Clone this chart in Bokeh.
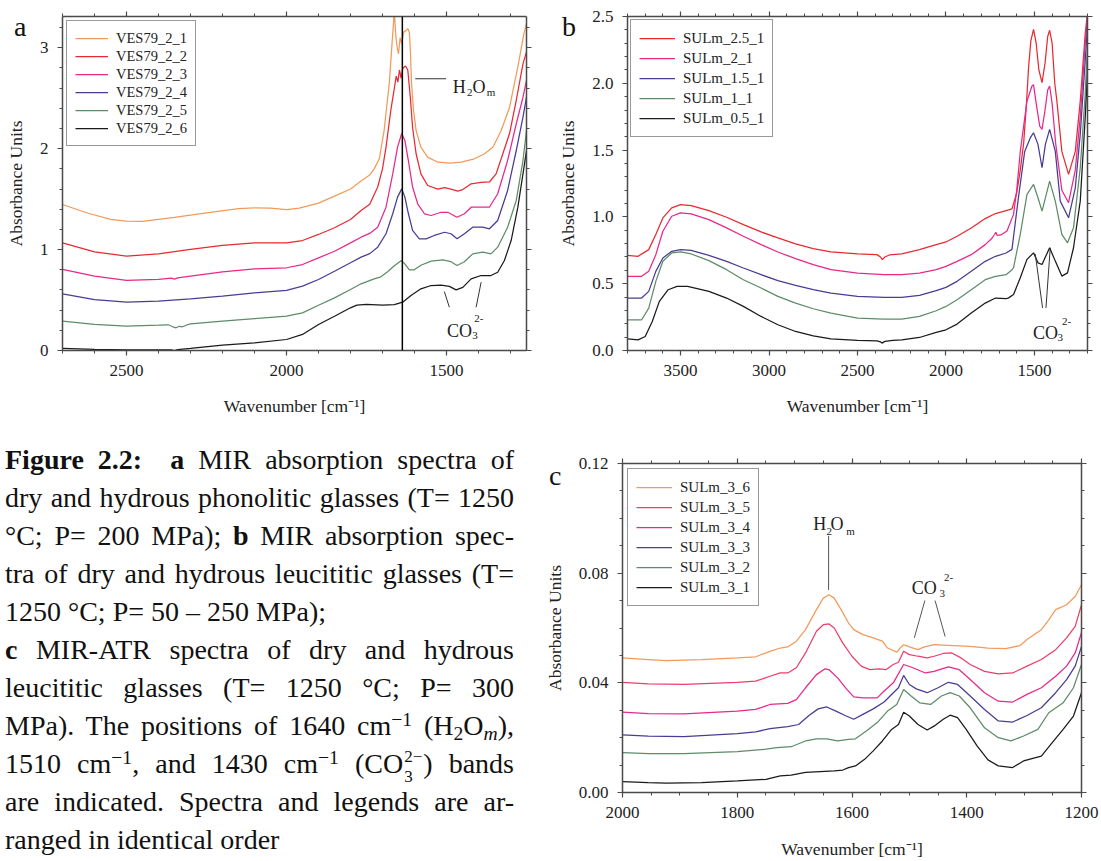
from bokeh.plotting import figure
from bokeh.models import (Range1d, LinearAxis, FixedTicker, PrintfTickFormatter, Span, Label, Div,
                          CustomLabelingPolicy)
from bokeh.layouts import column, row
from bokeh.embed import file_html
from bokeh.resources import INLINE

SERIF = "Liberation Serif"
FRAME = "#4a4a4a"
TXT = "#222222"

# ---------------- Panel a : phonolitic glasses (wavenumber, absorbance) ----------------
a_names = ["VES79_2_1", "VES79_2_2", "VES79_2_3", "VES79_2_4", "VES79_2_5", "VES79_2_6"]
a_colors = ["#F39A5A", "#E82A30", "#E8288A", "#483C94", "#5E8C69", "#1A1A1A"]
a_1 = [(2700, 1.447), (2620, 1.36), (2550, 1.30), (2500, 1.282), (2450, 1.28), (2400, 1.30), (2350, 1.32),
       (2250, 1.364), (2150, 1.405), (2100, 1.414), (2050, 1.41), (2000, 1.397), (1960, 1.41), (1900, 1.46),
       (1850, 1.53), (1800, 1.60), (1767, 1.68), (1740, 1.74), (1726, 1.80), (1710, 1.90), (1695, 2.18),
       (1679, 2.64), (1668, 3.14), (1663, 3.36), (1658, 3.10), (1654, 3.00), (1650, 2.94), (1645, 3.10),
       (1640, 3.04), (1634, 3.155), (1627, 3.17), (1621, 3.19), (1616, 3.155), (1613, 2.97), (1609, 2.64),
       (1603, 2.38), (1595, 2.18), (1580, 2.015), (1559, 1.916), (1527, 1.866), (1486, 1.856), (1454, 1.866),
       (1413, 1.90), (1381, 1.95), (1355, 2.015), (1329, 2.18), (1303, 2.41), (1277, 2.81), (1258, 3.14), (1250, 3.24)]
a_2 = [(2700, 1.067), (2600, 0.978), (2500, 0.935), (2400, 0.958), (2300, 1.001), (2200, 1.041), (2100, 1.067),
       (2000, 1.067), (1950, 1.09), (1900, 1.15), (1850, 1.216), (1800, 1.298), (1767, 1.388), (1740, 1.45),
       (1715, 1.62), (1700, 1.80), (1689, 2.015), (1674, 2.38), (1663, 2.60), (1657, 2.72), (1652, 2.66),
       (1647, 2.78), (1642, 2.70), (1636, 2.80), (1628, 2.82), (1621, 2.78), (1613, 2.51), (1606, 2.21),
       (1595, 1.95), (1580, 1.75), (1559, 1.635), (1527, 1.60), (1506, 1.615), (1486, 1.60), (1465, 1.58),
       (1449, 1.595), (1423, 1.652), (1392, 1.665), (1366, 1.67), (1345, 1.75), (1324, 1.95), (1303, 2.15),
       (1282, 2.48), (1261, 2.84), (1250, 2.96)]
a_3 = [(2700, 0.803), (2600, 0.737), (2500, 0.694), (2400, 0.704), (2360, 0.718), (2350, 0.708), (2340, 0.72),
       (2300, 0.737), (2200, 0.78), (2100, 0.81), (2000, 0.82), (1950, 0.852), (1900, 0.918), (1850, 0.984),
       (1800, 1.067), (1767, 1.123), (1740, 1.16), (1715, 1.222), (1689, 1.42), (1668, 1.75), (1653, 2.015),
       (1640, 2.15), (1630, 2.08), (1619, 1.88), (1606, 1.62), (1590, 1.454), (1569, 1.355), (1548, 1.338),
       (1517, 1.37), (1496, 1.37), (1467, 1.321), (1444, 1.355), (1423, 1.42), (1392, 1.42), (1366, 1.42),
       (1340, 1.553), (1309, 1.883), (1282, 2.247), (1261, 2.51), (1250, 2.676)]
a_4 = [(2700, 0.562), (2600, 0.505), (2500, 0.479), (2400, 0.489), (2300, 0.512), (2200, 0.538), (2100, 0.572),
       (2000, 0.595), (1950, 0.638), (1900, 0.704), (1850, 0.786), (1800, 0.869), (1767, 0.925), (1740, 0.96),
       (1715, 1.024), (1689, 1.157), (1668, 1.355), (1653, 1.52), (1640, 1.602), (1630, 1.52), (1619, 1.355),
       (1606, 1.19), (1585, 1.107), (1564, 1.107), (1538, 1.14), (1506, 1.172), (1486, 1.157), (1467, 1.107),
       (1444, 1.157), (1418, 1.222), (1387, 1.222), (1366, 1.206), (1340, 1.288), (1309, 1.586), (1282, 1.982),
       (1261, 2.312), (1250, 2.51)]
a_5 = [(2700, 0.291), (2600, 0.258), (2500, 0.241), (2400, 0.251), (2370, 0.255), (2355, 0.235), (2345, 0.225),
       (2335, 0.24), (2325, 0.235), (2310, 0.255), (2300, 0.264), (2200, 0.291), (2100, 0.317), (2000, 0.340),
       (1950, 0.373), (1900, 0.449), (1850, 0.522), (1800, 0.605), (1767, 0.661), (1726, 0.71), (1705, 0.73),
       (1684, 0.78), (1663, 0.84), (1642, 0.89), (1632, 0.865), (1616, 0.80), (1601, 0.80), (1580, 0.845),
       (1548, 0.885), (1511, 0.899), (1486, 0.88), (1467, 0.842), (1444, 0.88), (1418, 0.958), (1387, 0.974),
       (1361, 0.958), (1340, 1.024), (1309, 1.222), (1282, 1.487), (1261, 1.883), (1250, 2.18)]
a_6 = [(2700, 0.02), (2600, 0.01), (2500, 0.006), (2400, 0.005), (2360, 0.006), (2350, 0.0), (2340, 0.008),
       (2300, 0.02), (2200, 0.053), (2100, 0.076), (2000, 0.109), (1950, 0.159), (1900, 0.258), (1850, 0.34),
       (1800, 0.423), (1780, 0.449), (1750, 0.456), (1700, 0.449), (1663, 0.455), (1637, 0.479), (1611, 0.545),
       (1580, 0.611), (1548, 0.644), (1517, 0.648), (1491, 0.635), (1470, 0.601), (1449, 0.625), (1423, 0.71),
       (1392, 0.743), (1361, 0.743), (1340, 0.776), (1319, 0.892), (1298, 1.09), (1277, 1.42), (1261, 1.75),
       (1250, 1.98)]
a_series = [a_1, a_2, a_3, a_4, a_5, a_6]
a_x_major = [2500, 2000, 1500]
a_y_major = [0, 1, 2, 3]
a_h2o_band = 1638

# ---------------- Panel b : leucititic glasses ----------------
b_names = ["SULm_2.5_1", "SULm_2_1", "SULm_1.5_1", "SULm_1_1", "SULm_0.5_1"]
b_colors = ["#E82A30", "#E8288A", "#483C94", "#5E8C69", "#1A1A1A"]
b_1 = [(3800, 0.7125), (3740, 0.705), (3680, 0.755), (3640, 0.8675), (3600, 0.9925), (3550, 1.0675),
       (3500, 1.0925), (3440, 1.085), (3340, 1.0475), (3240, 0.9975), (3145, 0.9425), (3045, 0.8875),
       (2950, 0.8425), (2850, 0.7975), (2750, 0.7625), (2650, 0.7375), (2500, 0.7225), (2390, 0.7175),
       (2370, 0.70), (2360, 0.68), (2345, 0.70), (2320, 0.715), (2250, 0.7225), (2150, 0.755), (2055, 0.7925),
       (2000, 0.8125), (1937, 0.855), (1857, 0.9175), (1778, 0.9875), (1720, 1.025), (1660, 1.0475),
       (1627, 1.06), (1600, 1.18), (1580, 1.35), (1561, 1.55), (1545, 1.85), (1533, 2.12), (1520, 2.32),
       (1505, 2.404), (1490, 2.30), (1475, 2.10), (1457, 2.005), (1440, 2.15), (1425, 2.35), (1414, 2.397),
       (1400, 2.30), (1385, 2.00), (1373, 1.867), (1345, 1.49), (1307, 1.318), (1269, 1.49), (1241, 1.867),
       (1213, 2.37), (1194, 2.60)]
b_2 = [(3800, 0.555), (3720, 0.555), (3680, 0.5925), (3640, 0.7175), (3600, 0.8925), (3550, 1.005),
       (3500, 1.03), (3440, 1.0225), (3340, 0.98), (3240, 0.9175), (3145, 0.855), (3045, 0.7925),
       (2950, 0.7375), (2850, 0.6875), (2750, 0.6425), (2650, 0.605), (2500, 0.58), (2350, 0.5675),
       (2250, 0.5675), (2150, 0.58), (2055, 0.605), (2000, 0.63), (1937, 0.6675), (1857, 0.7175),
       (1778, 0.7925), (1740, 0.84), (1725, 0.87), (1718, 0.885), (1711, 0.862), (1690, 0.865), (1655, 0.894),
       (1618, 1.019), (1600, 1.20), (1580, 1.49), (1542, 1.867), (1514, 1.98), (1505, 1.99), (1490, 1.85),
       (1470, 1.68), (1457, 1.655), (1440, 1.80), (1425, 1.95), (1414, 1.98), (1400, 1.85), (1380, 1.55),
       (1345, 1.20), (1307, 1.106), (1269, 1.35), (1241, 1.75), (1213, 2.30), (1194, 2.60)]
b_3 = [(3800, 0.3925), (3720, 0.3925), (3680, 0.4425), (3640, 0.5925), (3600, 0.6925), (3550, 0.7425),
       (3500, 0.755), (3440, 0.75), (3340, 0.7125), (3240, 0.6675), (3145, 0.6175), (3045, 0.5675),
       (2950, 0.5225), (2850, 0.4875), (2750, 0.455), (2650, 0.43), (2500, 0.405), (2350, 0.3975),
       (2250, 0.3975), (2150, 0.4125), (2055, 0.4475), (2000, 0.4725), (1937, 0.5175), (1857, 0.5925),
       (1778, 0.6675), (1720, 0.705), (1660, 0.73), (1627, 0.757), (1593, 1.118), (1555, 1.49), (1523, 1.593),
       (1505, 1.63), (1480, 1.543), (1457, 1.368), (1438, 1.543), (1414, 1.655), (1382, 1.49), (1354, 1.118),
       (1307, 0.993), (1269, 1.218), (1241, 1.618), (1213, 2.167), (1194, 2.55)]
b_4 = [(3800, 0.23), (3720, 0.23), (3680, 0.3175), (3640, 0.5175), (3600, 0.6675), (3550, 0.73),
       (3500, 0.7375), (3440, 0.7225), (3340, 0.6725), (3240, 0.605), (3145, 0.53), (3045, 0.4675),
       (2950, 0.405), (2850, 0.355), (2750, 0.3125), (2650, 0.28), (2500, 0.2425), (2350, 0.235),
       (2250, 0.235), (2150, 0.255), (2055, 0.2975), (2000, 0.33), (1937, 0.38), (1857, 0.455), (1778, 0.53),
       (1720, 0.555), (1660, 0.5675), (1630, 0.6), (1618, 0.62), (1580, 0.869), (1542, 1.169), (1505, 1.243),
       (1480, 1.143), (1457, 1.043), (1438, 1.143), (1414, 1.268), (1382, 1.118), (1345, 0.869), (1313, 0.806),
       (1279, 0.918), (1241, 1.368), (1213, 1.918), (1194, 2.47)]
b_5 = [(3800, 0.0875), (3740, 0.08), (3700, 0.105), (3660, 0.2175), (3620, 0.3675), (3570, 0.455),
       (3520, 0.48), (3460, 0.48), (3340, 0.4425), (3240, 0.3925), (3145, 0.33), (3045, 0.255), (2950, 0.1925),
       (2850, 0.1425), (2750, 0.11), (2650, 0.0875), (2500, 0.075), (2390, 0.072), (2370, 0.065), (2362, 0.055),
       (2345, 0.068), (2300, 0.075), (2250, 0.08), (2150, 0.0975), (2055, 0.135), (2000, 0.155), (1937, 0.1975),
       (1857, 0.28), (1778, 0.355), (1720, 0.3925), (1660, 0.3875), (1646, 0.394), (1618, 0.419), (1580, 0.544),
       (1542, 0.682), (1505, 0.731), (1480, 0.656), (1457, 0.644), (1438, 0.70), (1414, 0.769), (1382, 0.669),
       (1345, 0.557), (1313, 0.581), (1279, 0.769), (1241, 1.118), (1213, 1.742), (1194, 2.24)]
b_series = [b_1, b_2, b_3, b_4, b_5]
b_x_major = [3500, 3000, 2500, 2000, 1500]
b_y_major = [0.0, 0.5, 1.0, 1.5, 2.0, 2.5]

# ---------------- Panel c : MIR-ATR spectra ----------------
c_names = ["SULm_3_6", "SULm_3_5", "SULm_3_4", "SULm_3_3", "SULm_3_2", "SULm_3_1"]
c_colors = ["#F39A5A", "#EC3E6C", "#E8288A", "#483C94", "#5E8C69", "#1A1A1A"]
c_1 = [(2000, 0.0491), (1955, 0.0485), (1924, 0.0481), (1862, 0.0485), (1800, 0.0491), (1768, 0.0495),
       (1743, 0.0515), (1725, 0.0527), (1712, 0.0531), (1697, 0.0552), (1681, 0.0594), (1662, 0.0667),
       (1650, 0.0709), (1640, 0.0721), (1631, 0.0709), (1619, 0.0667), (1606, 0.0618), (1597, 0.0594),
       (1581, 0.0576), (1563, 0.0564), (1547, 0.0552), (1538, 0.0527), (1522, 0.0512), (1516, 0.0527),
       (1510, 0.0539), (1500, 0.0531), (1485, 0.0521), (1475, 0.053), (1457, 0.0539), (1432, 0.0537),
       (1394, 0.0533), (1363, 0.0527), (1332, 0.0525), (1307, 0.0536), (1295, 0.0558), (1270, 0.0594),
       (1257, 0.063), (1245, 0.0667), (1226, 0.0685), (1211, 0.0715), (1200, 0.0758)]
c_2 = [(2000, 0.0402), (1955, 0.0396), (1893, 0.0394), (1800, 0.0402), (1768, 0.0406), (1743, 0.0424),
       (1725, 0.0436), (1712, 0.0436), (1697, 0.0455), (1681, 0.0509), (1662, 0.0588), (1650, 0.0612),
       (1640, 0.0615), (1631, 0.060), (1616, 0.0545), (1600, 0.0497), (1584, 0.0461), (1569, 0.0448),
       (1553, 0.0451), (1541, 0.0448), (1528, 0.0467), (1519, 0.0475), (1510, 0.0515), (1500, 0.0503),
       (1485, 0.0497), (1469, 0.0491), (1457, 0.0497), (1441, 0.0507), (1426, 0.0509), (1410, 0.0491),
       (1394, 0.0467), (1369, 0.0442), (1345, 0.0433), (1320, 0.0436), (1295, 0.0461), (1270, 0.0485),
       (1245, 0.0521), (1226, 0.0564), (1211, 0.0606), (1200, 0.0685)]
c_3 = [(2000, 0.0293), (1955, 0.0288), (1893, 0.0287), (1800, 0.0297), (1768, 0.0303), (1743, 0.0321),
       (1712, 0.0325), (1697, 0.0339), (1681, 0.0382), (1662, 0.043), (1647, 0.0451), (1640, 0.0448),
       (1625, 0.0418), (1609, 0.0376), (1597, 0.0349), (1581, 0.0345), (1556, 0.0345), (1544, 0.037),
       (1528, 0.040), (1510, 0.0467), (1494, 0.0455), (1472, 0.0436), (1457, 0.0442), (1432, 0.0458),
       (1413, 0.0448), (1394, 0.0412), (1369, 0.0364), (1345, 0.0333), (1320, 0.033), (1295, 0.0358),
       (1270, 0.0382), (1245, 0.0424), (1226, 0.0461), (1211, 0.0509), (1200, 0.0584)]
c_4 = [(2000, 0.021), (1955, 0.0206), (1893, 0.0204), (1800, 0.0215), (1768, 0.0221), (1743, 0.0233),
       (1712, 0.024), (1693, 0.0248), (1675, 0.0281), (1659, 0.0305), (1644, 0.0312), (1628, 0.0297),
       (1612, 0.0281), (1597, 0.0267), (1581, 0.0285), (1563, 0.0305), (1544, 0.033), (1528, 0.0364),
       (1519, 0.0382), (1510, 0.0427), (1500, 0.0394), (1488, 0.0378), (1469, 0.0364), (1450, 0.0382),
       (1432, 0.0402), (1416, 0.0394), (1394, 0.0352), (1369, 0.0303), (1345, 0.0261), (1320, 0.0257),
       (1295, 0.0281), (1270, 0.0309), (1245, 0.0364), (1226, 0.0412), (1211, 0.0461), (1200, 0.0533)]
c_5 = [(2000, 0.0145), (1955, 0.0142), (1893, 0.0142), (1800, 0.0149), (1750, 0.0158), (1731, 0.0164),
       (1706, 0.0167), (1681, 0.0188), (1662, 0.0196), (1644, 0.0196), (1625, 0.0188), (1606, 0.0194),
       (1594, 0.0196), (1575, 0.0224), (1556, 0.0255), (1538, 0.0297), (1522, 0.0321), (1510, 0.0376),
       (1497, 0.0352), (1482, 0.0327), (1463, 0.0321), (1444, 0.0352), (1429, 0.0364), (1413, 0.0352),
       (1394, 0.0309), (1369, 0.0236), (1345, 0.020), (1323, 0.0188), (1301, 0.0206), (1276, 0.023),
       (1257, 0.0291), (1232, 0.0327), (1214, 0.0382), (1200, 0.0467)]
c_6 = [(2000, 0.004), (1955, 0.0036), (1924, 0.0034), (1862, 0.0036), (1800, 0.0042), (1750, 0.0048),
       (1725, 0.0061), (1706, 0.0063), (1681, 0.0073), (1656, 0.0076), (1631, 0.0079), (1616, 0.0082),
       (1606, 0.0091), (1594, 0.0097), (1578, 0.0121), (1563, 0.0152), (1547, 0.0188), (1531, 0.023),
       (1519, 0.0248), (1510, 0.0293), (1500, 0.0279), (1485, 0.0248), (1469, 0.0228), (1457, 0.0242),
       (1441, 0.0267), (1429, 0.0282), (1416, 0.0273), (1401, 0.023), (1382, 0.017), (1363, 0.0119),
       (1345, 0.0097), (1320, 0.0091), (1301, 0.0115), (1270, 0.0133), (1251, 0.0182), (1232, 0.023),
       (1214, 0.0279), (1200, 0.0364)]
c_series = [c_1, c_2, c_3, c_4, c_5, c_6]
c_x_major = [2000, 1800, 1600, 1400, 1200]
c_y_major = [0.0, 0.04, 0.08, 0.12]

caption_lines = [
    ("<b>Figure 2.2:</b>&nbsp; <b>a</b> MIR absorption spectra of", True),
    ("dry and hydrous phonolitic glasses (T= 1250", True),
    ("°C; P= 200 MPa); <b>b</b> MIR absorption spec-", True),
    ("tra of dry and hydrous leucititic glasses (T=", True),
    ("1250 °C; P= 50 – 250 MPa);", False),
    ("<b>c</b> MIR-ATR spectra of dry and hydrous", True),
    ("leucititic glasses (T= 1250 °C; P= 300", True),
    ("MPa). The positions of 1640 cm{SUPm1} (H{SUB2}O{SUBm}),", True),
    ("1510 cm{SUPm1}, and 1430 cm{SUPm1} (CO{STACK}) bands", True),
    ("are indicated. Spectra and legends are ar-", True),
    ("ranged in identical order", False),
]
# panel letters: (text, left px, top px) relative to the caption block origin
panel_letters = [("a", 14, -417), ("b", 562, -417), ("c", 549, 32)]

NO_LABELS = CustomLabelingPolicy(code="return new indices.constructor(indices.size);")


def unzip(pairs):
    return [p[0] for p in pairs], [p[1] for p in pairs]


def style_axis(ax, show_labels=True, label_standoff=11):
    ax.axis_line_color = FRAME
    ax.axis_line_width = 1.5
    ax.major_tick_line_color = FRAME
    ax.minor_tick_line_color = FRAME
    ax.major_tick_line_width = 1.2
    ax.minor_tick_line_width = 1
    ax.major_tick_out = 5
    ax.major_tick_in = 0
    ax.minor_tick_out = 3
    ax.minor_tick_in = 0
    ax.major_label_text_font = SERIF
    ax.major_label_text_color = TXT
    ax.axis_label_text_font = SERIF
    ax.axis_label_text_font_style = "normal"
    ax.axis_label_text_color = TXT
    ax.axis_label_text_font_size = "17.5px"
    if show_labels:
        ax.major_label_text_font_size = "17px"
        ax.major_label_standoff = 9
        ax.axis_label_standoff = label_standoff
    else:
        ax.major_label_text_font_size = "0px"
        ax.major_label_standoff = 0
        ax.major_label_policy = NO_LABELS


def make_panel(width, height, xr, yr, borders, xt, yt, yfmt, series, names, colors, xlab_standoff):
    p = figure(width=width, height=height, x_range=Range1d(*xr), y_range=Range1d(*yr),
               output_backend="svg", toolbar_location=None,
               min_border_left=borders[0], min_border_right=borders[1],
               min_border_top=borders[2], min_border_bottom=borders[3],
               background_fill_color="white", border_fill_color="white")
    p.outline_line_color = None
    p.xgrid.grid_line_color = None
    p.ygrid.grid_line_color = None
    top = LinearAxis(ticker=xt)
    right = LinearAxis(ticker=yt)
    p.add_layout(top, "above")
    p.add_layout(right, "right")
    p.below[0].ticker = xt
    p.left[0].ticker = yt
    p.below[0].axis_label = "Wavenumber [cm⁻¹]"
    p.left[0].axis_label = "Absorbance Units"
    if yfmt:
        p.left[0].formatter = PrintfTickFormatter(format=yfmt)
    style_axis(p.below[0], True, xlab_standoff)
    style_axis(p.left[0], True, 11)
    style_axis(top, False)
    style_axis(right, False)
    for s, n, c in zip(series, names, colors):
        x, y = unzip(s)
        p.line(x, y, line_color=c, line_width=1.25, legend_label=n)
    return p


def lab(p, x, y, text, size="18px", align="left", baseline="alphabetic"):
    p.add_layout(Label(x=x, y=y, text=text, text_font=SERIF, text_font_size=size,
                       text_color=TXT, text_align=align, text_baseline=baseline))


def style_legend(p, font, item_h, margin, pad, glyph_w):
    lg = p.legend[0]
    lg.location = "top_left"
    lg.margin = margin
    lg.padding = pad
    lg.spacing = 0
    lg.label_height = item_h
    lg.glyph_height = item_h
    lg.glyph_width = glyph_w
    lg.label_standoff = 8
    lg.label_text_font = SERIF
    lg.label_text_font_size = font
    lg.label_text_color = TXT
    lg.border_line_color = "#333333"
    lg.border_line_width = 1.5
    lg.background_fill_color = "white"
    lg.background_fill_alpha = 1.0


# ---------- panel a ----------
a_xt = FixedTicker(ticks=a_x_major, minor_ticks=list(range(1300, 2701, 100)))
a_yt = FixedTicker(ticks=a_y_major, minor_ticks=[round(0.2 * i, 2) for i in range(17)])
pa = make_panel(545, 430, (2700, 1250), (0, 3.31), (62, 19, 16, 80), a_xt, a_yt, None,
                a_series, a_names, a_colors, 17)
style_legend(pa, "14.5px", 18, 4, 8, 33)
pa.add_layout(Span(location=a_h2o_band, dimension="height", line_color="black", line_width=1.5))
pa.segment(x0=[1597.6, 1506.8, 1391.8], y0=[2.693, 0.585, 0.677],
           x1=[1501.4, 1491.1, 1407.4], y1=[2.693, 0.429, 0.429], line_color="#333333", line_width=1)
lab(pa, 1480.5, 2.607, "H")
lab(pa, 1435.7, 2.557, "2", "11px")
lab(pa, 1418.5, 2.607, "O")
lab(pa, 1374.6, 2.557, "m", "11px")
lab(pa, 1498.3, 0.191, "CO")
lab(pa, 1419.4, 0.149, "3", "11px")
lab(pa, 1413.0, 0.317, "2-", "11px")

# ---------- panel b ----------
b_xt = FixedTicker(ticks=b_x_major, minor_ticks=list(range(1200, 3801, 100)))
b_yt = FixedTicker(ticks=b_y_major, minor_ticks=[round(0.1 * i, 2) for i in range(26)])
pb = make_panel(556, 430, (3800, 1200), (0, 2.5), (82, 14, 16, 80), b_xt, b_yt, "%.1f",
                b_series, b_names, b_colors, 17)
style_legend(pb, "15px", 20, 3, 8, 36)
pb.segment(x0=[1495.2, 1410.5], y0=[0.7213, 0.7685], x1=[1454.0, 1434.8], y1=[0.319, 0.319],
           line_color="#333333", line_width=1)
lab(pb, 1508.0, 0.132, "CO")
lab(pb, 1369.3, 0.096, "3", "11px")
lab(pb, 1344.5, 0.219, "2-", "11px")

# ---------- panel c ----------
c_xt = FixedTicker(ticks=c_x_major, minor_ticks=list(range(1200, 2001, 50)))
c_yt = FixedTicker(ticks=c_y_major, minor_ticks=[round(0.01 * i, 3) for i in range(13)])
pc = make_panel(561, 431, (2000, 1200), (0, 0.12), (82, 20, 33, 68), c_xt, c_yt, "%.2f",
                c_series, c_names, c_colors, 18)
style_legend(pc, "15px", 20, 5, 8, 36)
pc.segment(x0=[1640.8, 1473.0, 1455.2], y0=[0.0936, 0.0700, 0.0700],
           x1=[1640.8, 1491.4, 1437.7], y1=[0.0739, 0.0564, 0.0569], line_color="#555555", line_width=1)
lab(pc, 1667.6, 0.0979, "H")
lab(pc, 1644.4, 0.0952, "2", "11px")
lab(pc, 1637.6, 0.0979, "O")
lab(pc, 1610.1, 0.0952, "m", "11px")
lab(pc, 1495.8, 0.0745, "CO")
lab(pc, 1447.7, 0.0727, "3", "11px")
lab(pc, 1439.6, 0.0783, "2-", "11px")

# ---------- caption (and panel letters) ----------
SUPm1 = '<span style="position:relative;top:-0.45em;font-size:0.7em;">&minus;1</span>'
SUB2 = '<span style="position:relative;top:0.25em;font-size:0.7em;">2</span>'
SUBm = '<span style="position:relative;top:0.25em;font-size:0.7em;font-style:italic;">m</span>'
STACK = ('<span style="display:inline-block;position:relative;width:20px;height:1px;">'
         '<span style="position:absolute;left:1px;top:-24px;font-size:17px;line-height:17px;">2&minus;</span>'
         '<span style="position:absolute;left:1px;top:-4px;font-size:17px;line-height:17px;">3</span></span>')
rows_html = []
for t, just in caption_lines:
    t = t.replace("{SUPm1}", SUPm1).replace("{SUB2}", SUB2).replace("{SUBm}", SUBm).replace("{STACK}", STACK)
    al = "justify" if just else "left"
    rows_html.append(f'<div style="height:38px;line-height:38px;white-space:nowrap;'
                     f'text-align:{al};text-align-last:{al};">{t}</div>')
letters_html = "".join(
    f'<div style="position:absolute;left:{x}px;top:{y}px;font-size:28px;line-height:1;'
    f'z-index:20;color:#111;">{t}</div>' for t, x, y in panel_letters)
caption_html = ('<div style="position:relative;padding:11px 0 0 5px;font-family:\'Liberation Serif\',serif;'
                'color:#111;">' + letters_html +
                '<div style="width:509px;font-size:28px;">' + "".join(rows_html) + '</div></div>')
cap = Div(text=caption_html, width=540, height=431, margin=(0, 0, 0, 0))

for f in (pa, pb, pc):
    f.margin = (0, 0, 0, 0)

layout = column(row(pa, pb), row(cap, pc))
open("out.html", "w").write(file_html(layout, INLINE))
